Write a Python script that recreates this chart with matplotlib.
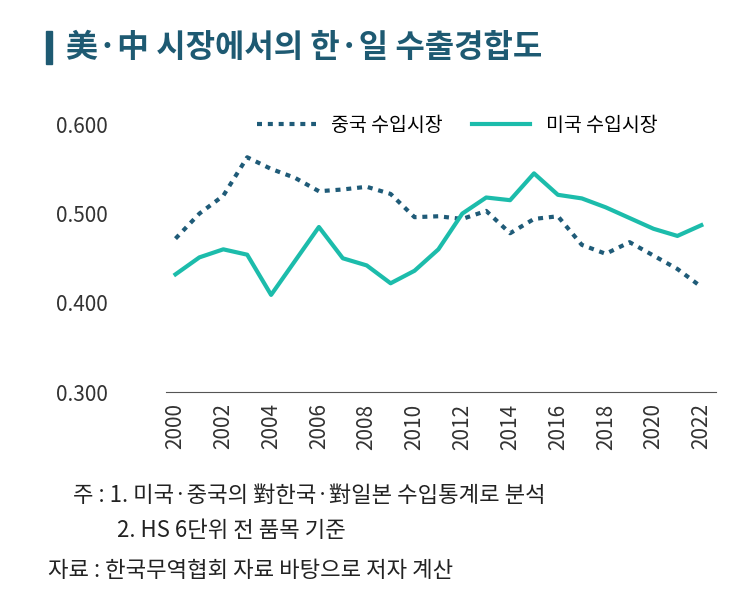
import matplotlib.pyplot as plt

plt.rcParams['font.family'] = ['Noto Sans CJK KR', 'DejaVu Sans']

years = list(range(2000, 2023))
china = [0.472, 0.500, 0.520, 0.563, 0.550, 0.540, 0.525, 0.527, 0.530, 0.522,
         0.496, 0.497, 0.494, 0.503, 0.478, 0.494, 0.497, 0.465, 0.455, 0.468,
         0.453, 0.438, 0.418]
usa = [0.432, 0.451, 0.460, 0.454, 0.409, 0.447, 0.485, 0.450, 0.442, 0.422,
       0.436, 0.460, 0.500, 0.518, 0.515, 0.545, 0.521, 0.517, 0.507, 0.495,
       0.483, 0.475, 0.487]
xticks = list(range(2000, 2023, 2))
yticks = [0.3, 0.4, 0.5, 0.6]

fig = plt.figure(figsize=(7.31, 6.12), dpi=100)
ax = fig.add_axes([0.227, 0.359, 0.752, 0.438])

ax.plot(years, china, color='#1f5b78', lw=3, ls=(0, (1.2, 1.4)), label='중국 수입시장')
ax.plot(years, usa, color='#1cbcab', lw=3, label='미국 수입시장')

ax.set_xlim(1999.6, 2022.6)
ax.set_ylim(0.3, 0.6)
ax.set_yticks(yticks)
ax.set_yticklabels([f'{v:.3f}' for v in yticks], fontsize=15, color='#333333')
ax.set_xticks(xticks)
ax.set_xticklabels(xticks, rotation=90, fontsize=15, color='#333333')
for s in ['top', 'right', 'left']:
    ax.spines[s].set_visible(False)
ax.spines['bottom'].set_color('#555555')
ax.tick_params(length=0, pad=8)
ax.tick_params(axis='y', pad=42)

ax.legend(loc='upper center', bbox_to_anchor=(0.53, 1.1), ncol=2, frameon=False,
          fontsize=14, handlelength=3, columnspacing=1.5)

fig.patches.append(plt.Rectangle((0.063, 0.895), 0.008, 0.055, transform=fig.transFigure,
                                 color='#1e5a72'))
fig.text(0.09, 0.922, '美·中 시장에서의 한·일 수출경합도', fontsize=23, fontweight='bold',
         color='#1e5a72', va='center')
fig.text(0.1, 0.18, '주 : 1. 미국·중국의 對한국·對일본 수입통계로 분석', fontsize=16, color='#222222')
fig.text(0.16, 0.122, '2. HS 6단위 전 품목 기준', fontsize=16, color='#222222')
fig.text(0.065, 0.058, '자료 : 한국무역협회 자료 바탕으로 저자 계산', fontsize=16, color='#222222')

fig.savefig('out.png')
